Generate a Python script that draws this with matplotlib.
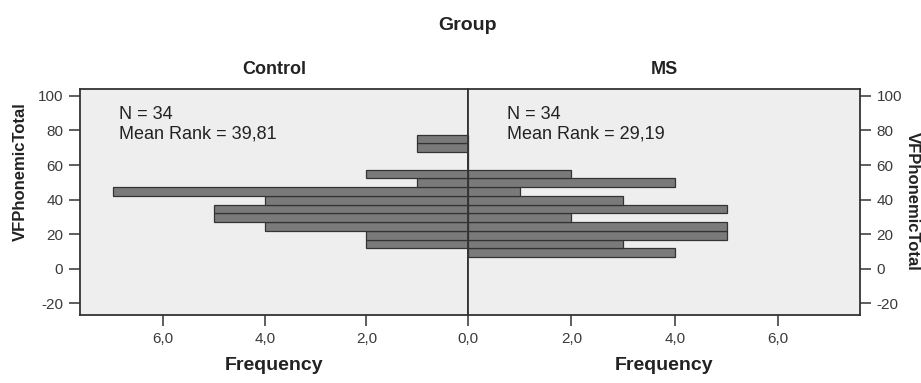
import matplotlib
matplotlib.use("Agg")
import matplotlib.pyplot as plt

# ---- data ----
bin_lower = [6.7, 11.76, 16.82, 21.88, 26.94, 32.0, 37.06, 42.12, 47.18, 52.24, 57.3, 62.36, 67.42, 72.48]
bin_width = 5.06
control_counts = [0, 2, 2, 4, 5, 5, 4, 7, 1, 2, 0, 0, 1, 1]
ms_counts = [4, 3, 5, 5, 2, 5, 3, 1, 4, 2, 0, 0, 0, 0]
groups = ["Control", "MS"]
n_values = [34, 34]
mean_ranks = ["39,81", "29,19"]
x_ticks_left = [0, 2, 4, 6]
x_ticks_right = [2, 4, 6]
y_ticks = [-20, 0, 20, 40, 60, 80, 100]

plt.rcParams['font.family'] = ['Liberation Sans', 'DejaVu Sans']

W, H = 921, 383
fig = plt.figure(figsize=(W / 100, H / 100), dpi=100)
fig.patch.set_facecolor('white')

def fx(px):
    return px / W

def fy(py):
    return 1 - py / H

top, bottom = 89, 315
left_x0, mid_x, right_x1 = 80, 468, 860
axL = fig.add_axes([fx(left_x0), fy(bottom), fx(mid_x - left_x0), (bottom - top) / H])
axR = fig.add_axes([fx(mid_x), fy(bottom), fx(right_x1 - mid_x), (bottom - top) / H], sharey=axL)

bar_face = '#7a7a7a'
bar_edge = '#333333'
bg = '#eeeeee'
spine_c = '#333333'
tick_c = '#3a3a3a'

def fmt(v):
    return f"{v:.1f}".replace('.', ',')

for ax, counts in ((axL, control_counts), (axR, ms_counts)):
    ax.set_facecolor(bg)
    ax.barh(bin_lower, counts, height=bin_width, align='edge',
            color=bar_face, edgecolor=bar_edge, linewidth=0.9, zorder=3)
    for s in ax.spines.values():
        s.set_color(spine_c)
        s.set_linewidth(1.3)
    ax.set_ylim(-26.8, 104)
    ax.tick_params(axis='both', direction='out', length=8, width=1.1,
                   color=spine_c, labelcolor=tick_c, labelsize=11, pad=4)

axL.set_xlim(7.64, 0)
axR.set_xlim(0, 7.58)

axL.set_xticks(x_ticks_left)
axL.set_xticklabels([fmt(v) for v in x_ticks_left])
axR.set_xticks(x_ticks_right)
axR.set_xticklabels([fmt(v) for v in x_ticks_right])

axL.set_yticks(y_ticks)
axL.set_yticklabels([str(v) for v in y_ticks])
axL.yaxis.set_ticks_position('left')
axR.yaxis.set_ticks_position('right')
axR.yaxis.set_label_position('right')
axR.tick_params(axis='y', labelleft=False, labelright=True, left=False, right=True)

# stats text
for ax, n, mr in ((axL, n_values[0], mean_ranks[0]), (axR, n_values[1], mean_ranks[1])):
    ax.text(0.10, 0.866, f"N = {n}", transform=ax.transAxes, fontsize=13,
            color='#222222', va='baseline', ha='left')
    ax.text(0.10, 0.783, f"Mean Rank = {mr}", transform=ax.transAxes, fontsize=13,
            color='#222222', va='baseline', ha='left')

# titles and labels
fig.text(fx(467.5), fy(25), "Group", ha='center', va='center', fontsize=14,
         fontweight='bold', color='#222222')
fig.text(fx((left_x0 + mid_x) / 2), fy(70), groups[0], ha='center', va='center',
         fontsize=13, fontweight='bold', color='#222222')
fig.text(fx((mid_x + right_x1) / 2), fy(70), groups[1], ha='center', va='center',
         fontsize=13, fontweight='bold', color='#222222')
fig.text(fx((left_x0 + mid_x) / 2), fy(366), "Frequency", ha='center', va='center',
         fontsize=14, fontweight='bold', color='#222222')
fig.text(fx((mid_x + right_x1) / 2), fy(366), "Frequency", ha='center', va='center',
         fontsize=14, fontweight='bold', color='#222222')
fig.text(fx(20), fy(172), "VFPhonemicTotal", ha='center', va='center', rotation=90,
         fontsize=12, fontweight='bold', color='#222222')
fig.text(fx(912), fy(201), "VFPhonemicTotal", ha='center', va='center', rotation=-90,
         fontsize=12, fontweight='bold', color='#222222')

fig.savefig("out.png", dpi=100, facecolor='white')
